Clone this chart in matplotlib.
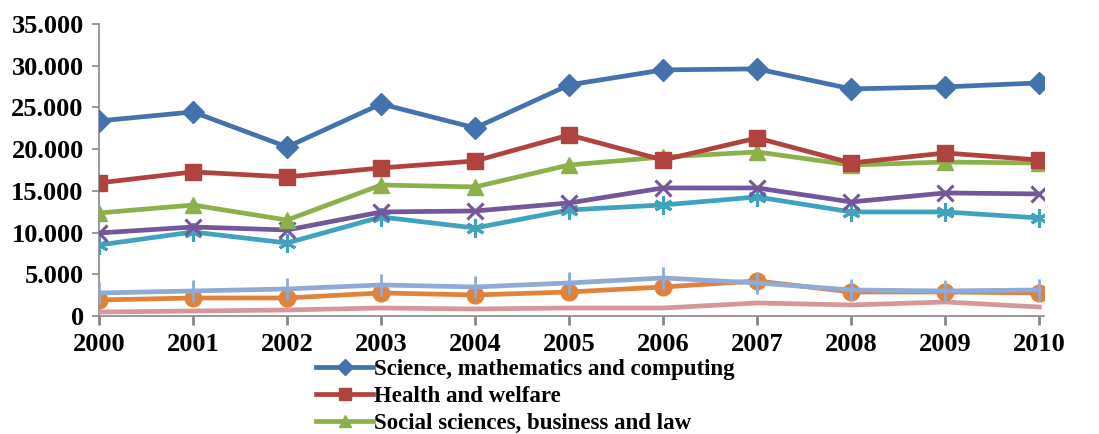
import matplotlib
matplotlib.use('Agg')
import matplotlib.pyplot as plt
from matplotlib.ticker import FuncFormatter

# data
years = [2000, 2001, 2002, 2003, 2004, 2005, 2006, 2007, 2008, 2009, 2010]
science = [23380, 24460, 20260, 25420, 22540, 27700, 29500, 29620, 27220, 27460, 27940]
health = [15950, 17270, 16670, 17750, 18580, 21700, 18700, 21340, 18340, 19540, 18700]
social = [12350, 13300, 11500, 15700, 15470, 18100, 19060, 19660, 18100, 18460, 18340]
purple_s = [9950, 10670, 10310, 12470, 12590, 13550, 15350, 15350, 13670, 14750, 14630]
aqua_s = [8510, 10070, 8750, 11870, 10550, 12710, 13310, 14270, 12470, 12470, 11750]
ltblue_s = [2760, 3000, 3240, 3720, 3480, 3960, 4560, 3960, 3120, 3000, 3120]
orange_s = [1920, 2160, 2160, 2760, 2520, 2880, 3480, 4200, 2880, 2880, 2760]
pink_s = [480, 600, 720, 960, 840, 960, 960, 1560, 1320, 1680, 1080]

labels = ['Science, mathematics and computing', 'Health and welfare',
          'Social sciences, business and law']

plt.rcParams['font.family'] = ['Liberation Serif', 'DejaVu Serif']
plt.rcParams['font.weight'] = 'bold'

fig = plt.figure(figsize=(10.99, 4.34), dpi=100)
ax = fig.add_axes([99/1099, 1-316/434, (1044-99)/1099, (316-24)/434])

lw = 3.4
h1, = ax.plot(years, science, color='#4472AC', lw=lw, marker='D', ms=11, zorder=9)
h2, = ax.plot(years, health, color='#B0433F', lw=lw, marker='s', ms=12, zorder=8)
h3, = ax.plot(years, social, color='#8CB04A', lw=lw, marker='^', ms=12, zorder=7)
ax.plot(years, purple_s, color='#74579A', lw=lw, marker='x', ms=12, mew=2.2, zorder=6)
ax.plot(years, aqua_s, color='#3FA3BD', lw=lw, zorder=5)
ax.plot(years, aqua_s, color='#3FA3BD', lw=0, marker=(6, 2, 0), ms=13, mew=2.2, zorder=5)
ax.plot(years, pink_s, color='#D6979A', lw=lw, zorder=2)
ax.plot(years, orange_s, color='#E1823A', lw=lw, marker='o', ms=12, zorder=3)
ax.plot(years, ltblue_s, color='#8FAAD4', lw=lw, marker='|', ms=16, mew=2, zorder=4)

ax.set_xlim(2000, 2010.05)
ax.set_ylim(0, 35000)
ax.set_xticks(years)
ax.set_yticks(range(0, 35001, 5000))
ax.yaxis.set_major_formatter(FuncFormatter(lambda v, p: f'{int(v):,}'.replace(',', '.')))

for s in ['top', 'right']:
    ax.spines[s].set_visible(False)
for s in ['left', 'bottom']:
    ax.spines[s].set_color('#888888')
    ax.spines[s].set_linewidth(1.2)
    ax.spines[s].set_zorder(1)
ax.tick_params(axis='x', length=6.5, width=2, color='#888888', labelsize=19, pad=6)
ax.tick_params(axis='y', length=5, width=1.2, color='#888888', labelsize=19, pad=6)
ax.patch.set_alpha(0)

fig.legend([h1, h2, h3], labels, loc='upper left', bbox_to_anchor=(316/1099, 1-359/434),
           frameon=False, fontsize=16.5, handlelength=2.5, handletextpad=0.05,
           labelspacing=0.26, borderpad=0, borderaxespad=0, markerscale=0.7)

fig.savefig('out.png', dpi=100)
